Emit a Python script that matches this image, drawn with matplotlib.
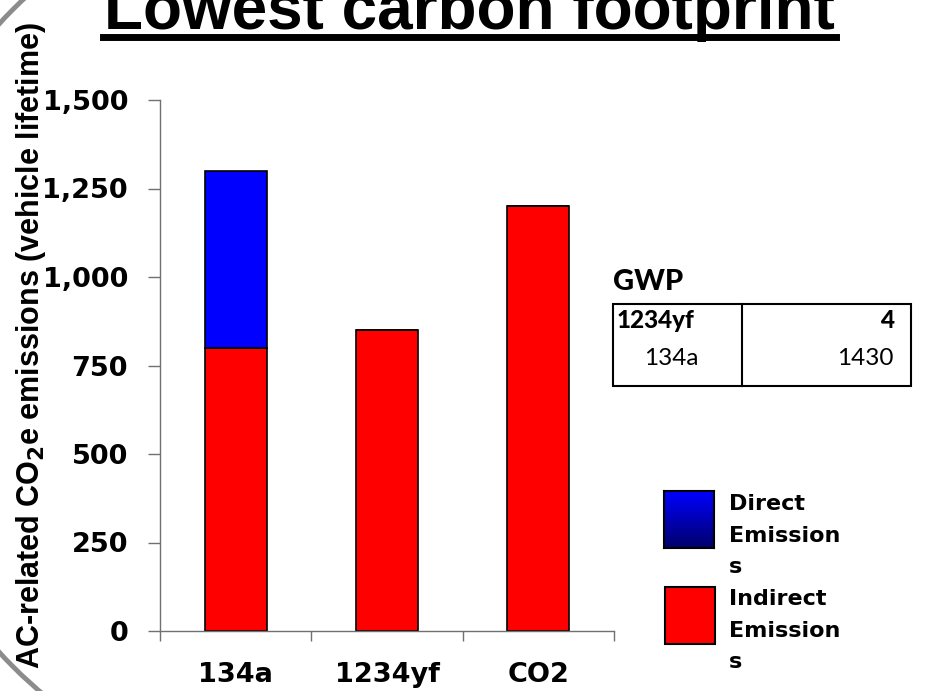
# AC-related CO2e emissions over vehicle lifetime, by refrigerant

import numpy as np
import matplotlib
matplotlib.use('Agg')
import matplotlib.pyplot as plt
from matplotlib.patches import Ellipse, Rectangle
from matplotlib.lines import Line2D
from matplotlib.transforms import Bbox, TransformedBbox
from matplotlib.ticker import FuncFormatter

# Data
refrigerants = ['134a', '1234yf', 'CO2']
indirect = [800, 850, 1200]
direct = [500, 0, 0]
series_names = ['Direct\nEmission\ns', 'Indirect\nEmission\ns']
gwp_names = ['1234yf', '134a']
gwp_values = [4, 1430]

plt.rcParams['font.family'] = ['DejaVu Sans']
arial = ['Liberation Sans', 'DejaVu Sans']
gothic = ['Lato', 'DejaVu Sans']

W, H = 926, 691
fig = plt.figure(figsize=(W / 100, H / 100), dpi=100)

def fx(px):
    return px / W

def fy(py):
    return 1 - py / H

# Gray ring of the slide background, only its left edge shows
ring = Ellipse((fx(342), fy(338)), 2 * 465 / W, 2 * 465 / H, transform=fig.transFigure,
               fill=False, edgecolor='#8c8c8c', linewidth=3.5, zorder=0)
ring.set_clip_box(TransformedBbox(Bbox([[0, 0], [fx(60), 1]]), fig.transFigure))
fig.add_artist(ring)

# Title with underline
fig.text(fx(469), fy(29), 'Lowest carbon footprint', fontsize=46, fontweight='bold',
         family=arial, ha='center', va='baseline')
fig.add_artist(Line2D([fx(103), fx(836)], [fy(36.5), fy(36.5)], transform=fig.transFigure,
                      color='black', linewidth=5))

ax = fig.add_axes([fx(160), fy(631), fx(614) - fx(160), fy(100) - fy(631)])
x = np.arange(len(refrigerants))
ax.bar(x, indirect, width=0.41, color='#ff0000', edgecolor='black', linewidth=1.2, zorder=2)
ax.bar(x, direct, width=0.41, bottom=indirect, color='#0000ff', edgecolor='black', linewidth=1.2, zorder=2)

ax.set_xlim(-0.5, len(refrigerants) - 0.5)
ax.set_ylim(0, 1500)
ax.set_yticks([0, 250, 500, 750, 1000, 1250, 1500])
ax.yaxis.set_major_formatter(FuncFormatter(lambda v, p: '{:,.0f}'.format(v)))
ax.set_xticks(x)
ax.set_xticklabels(refrigerants)
ax.set_xticks(np.arange(len(refrigerants) + 1) - 0.5, minor=True)
ax.tick_params(axis='x', which='major', length=0, pad=22)
ax.tick_params(axis='x', which='minor', length=7.5, width=1, color='#707070', direction='out')
ax.tick_params(axis='y', length=9, width=1, color='#707070', direction='out', pad=14)
for lab in ax.get_xticklabels() + ax.get_yticklabels():
    lab.set_fontsize(19.5)
    lab.set_fontweight('bold')
for side in ['top', 'right']:
    ax.spines[side].set_visible(False)
for side in ['left', 'bottom']:
    ax.spines[side].set_color('#707070')
    ax.spines[side].set_linewidth(1)

fig.text(fx(14), fy(345), 'AC-related CO$_\\mathbf{2}$e emissions (vehicle lifetime)',
         rotation=90, fontsize=22, fontweight='bold', family=arial, ha='left', va='center')

# GWP table
fig.text(fx(613), fy(290), 'GWP', fontsize=21, fontweight='black', family=gothic,
         ha='left', va='baseline')
fig.add_artist(Rectangle((fx(613), fy(386)), fx(911) - fx(613), fy(304) - fy(386),
                         transform=fig.transFigure, fill=False, edgecolor='black', linewidth=1.5))
fig.add_artist(Line2D([fx(742), fx(742)], [fy(304), fy(386)], transform=fig.transFigure,
                      color='black', linewidth=1.5))
fig.text(fx(617), fy(328), gwp_names[0], fontsize=17.5, fontweight='black', family=gothic,
         ha='left', va='baseline')
fig.text(fx(894), fy(328), str(gwp_values[0]), fontsize=17.5, fontweight='black', family=gothic,
         ha='right', va='baseline')
fig.text(fx(671), fy(365), gwp_names[1], fontsize=17.5, family=gothic, ha='center', va='baseline')
fig.text(fx(894), fy(365), str(gwp_values[1]), fontsize=17.5, family=gothic, ha='right', va='baseline')

# Legend: blue swatch with a gradient, red swatch plain
gax = fig.add_axes([fx(664), fy(548), fx(714) - fx(664), fy(491) - fy(548)])
grad = np.linspace(0, 1, 64).reshape(-1, 1)
top_c = np.array([0.0, 0.0, 1.0])
bot_c = np.array([0.0, 0.0, 0.42])
img = top_c[None, None, :] * (1 - grad[:, :, None]) + bot_c[None, None, :] * grad[:, :, None]
gax.imshow(img, aspect='auto', extent=[0, 1, 0, 1])
gax.set_xticks([])
gax.set_yticks([])
for s in gax.spines.values():
    s.set_linewidth(1.5)
    s.set_color('black')

fig.add_artist(Rectangle((fx(665), fy(644)), fx(715) - fx(665), fy(587) - fy(644),
                         transform=fig.transFigure, facecolor='#ff0000', edgecolor='black',
                         linewidth=1.5))
fig.text(fx(729), fy(494), series_names[0], fontsize=16, fontweight='bold', ha='left',
         va='top', linespacing=1.73)
fig.text(fx(729), fy(589), series_names[1], fontsize=16, fontweight='bold', ha='left',
         va='top', linespacing=1.73)

fig.savefig('out.png', dpi=100)
